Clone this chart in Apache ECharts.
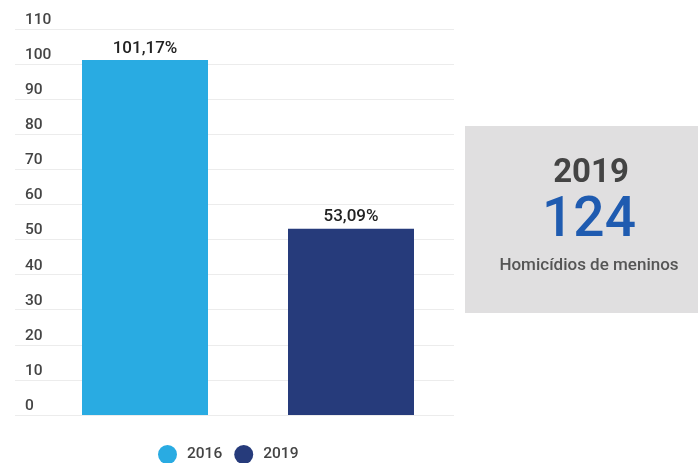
<!DOCTYPE html>
<html>
<head>
<meta charset="utf-8">
<script src="https://cdn.jsdelivr.net/npm/echarts@6/dist/echarts.min.js"></script>
<style>
  html, body { margin: 0; padding: 0; background: #fff; }
  #chart { width: 698px; height: 463px; }
</style>
</head>
<body>
<div id="chart"></div>
<script>
// Chart data
const years = ['2016', '2019'];
const values = [101.17, 53.09];
const barColors = ['#29abe2', '#263b7b'];
const yTicks = { min: 0, max: 110, interval: 10 };

// Highlight box content
const boxYear = '2019';
const boxNumber = '124';
const boxCaption = 'Homicídios de meninos';

const fmt = v => v.toFixed(2).replace('.', ',') + '%';

const chart = echarts.init(document.getElementById('chart'));

const font = 'Roboto, "Noto Sans", sans-serif';

const series = years.map((y, i) => ({
  name: y,
  type: 'bar',
  xAxisIndex: 1,
  yAxisIndex: 1,
  stack: 'all',
  barWidth: 126,
  itemStyle: { color: barColors[i] },
  label: {
    show: true,
    position: 'top',
    distance: 3,
    formatter: p => fmt(p.value),
    color: '#222',
    fontSize: 17,
    fontWeight: 500,
    fontFamily: font
  },
  data: years.map((_, j) => (j === i ? values[i] : null))
}));

chart.setOption({
  animation: false,
  textStyle: { fontFamily: font },
  grid: [
    { left: 15, right: 244, top: 29, bottom: 48 },
    { left: 42, right: 244, top: 29, bottom: 48 }
  ],
  xAxis: [
    { type: 'category', gridIndex: 0, data: years, show: false },
    { type: 'category', gridIndex: 1, data: years, show: false }
  ],
  yAxis: [
    {
      type: 'value', gridIndex: 0,
      min: yTicks.min, max: yTicks.max, interval: yTicks.interval,
      axisLine: { show: false }, axisTick: { show: false },
      splitLine: { lineStyle: { color: '#ececec', width: 1 } },
      axisLabel: {
        inside: true,
        verticalAlign: 'bottom',
        padding: [0, 0, 1, 2],
        color: '#444',
        fontSize: 15.5,
        fontWeight: 500,
        fontFamily: font
      }
    },
    {
      type: 'value', gridIndex: 1,
      min: yTicks.min, max: yTicks.max, interval: yTicks.interval,
      show: false
    }
  ],
  legend: {
    data: years,
    top: 440,
    left: 153,
    padding: 5,
    icon: 'circle',
    itemWidth: 19,
    itemHeight: 19,
    itemGap: 12,
    textStyle: {
      color: '#444', fontSize: 15.5, fontFamily: font, fontWeight: 500,
      padding: [0, 0, 0, 5]
    }
  },
  series: series,
  graphic: [
    {
      type: 'rect',
      left: 465, top: 126,
      shape: { width: 233, height: 187 },
      style: { fill: '#e0dfe0' }
    },
    {
      type: 'text',
      x: 591, y: 174,
      style: {
        text: boxYear, fill: '#444', font: 'bold 33px ' + font,
        align: 'center', verticalAlign: 'middle'
      }
    },
    {
      type: 'text',
      x: 589, y: 222,
      style: {
        text: boxNumber, fill: '#1f5bb0', font: '500 55px ' + font,
        align: 'center', verticalAlign: 'middle'
      }
    },
    {
      type: 'text',
      x: 589, y: 266,
      style: {
        text: boxCaption, fill: '#555', font: '500 17px ' + font,
        align: 'center', verticalAlign: 'middle'
      }
    }
  ]
});
</script>
</body>
</html>
